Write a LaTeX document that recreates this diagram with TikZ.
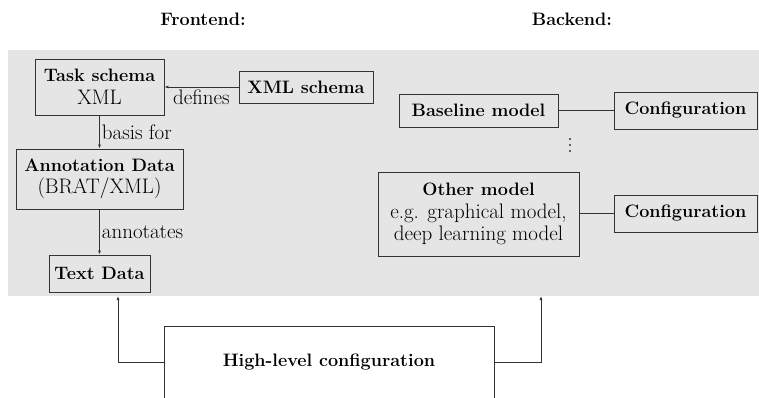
\documentclass[tikz,border=0pt]{standalone}
\usetikzlibrary{arrows.meta}
\begin{document}
\begin{tikzpicture}[x=1pt,y=-1pt,
  font=\fontsize{21}{22.5}\selectfont,
  box/.style={draw=black!80, line width=0.8pt, inner sep=0pt, align=center},
  conn/.style={draw=black!80, line width=0.8pt},
  arr/.style={conn, -{Latex[length=4pt,width=3pt]}},
  bf/.style={font=\fontsize{18}{21}\selectfont\bfseries},
  lbl/.style={inner sep=2pt}]
\newcommand{\bt}[1]{{\fontsize{18}{21}\selectfont\bfseries #1}}
\useasboundingbox (0,0) rectangle (759,398);
\clip (0,0) rectangle (759,397.5);
\fill[black!10] (8,50) rectangle (759,296);
\node[bf] (fe) at (203,19) {Frontend:};
\node[bf] (be) at (572,19) {Backend:};
% frontend
\node[box, minimum width=129pt, minimum height=56pt] (task) at (99.5,87) {\bt{Task schema}\\XML};
\node[box, bf, minimum width=134pt, minimum height=32pt] (xmls) at (306,87) {XML schema};
\node[box, minimum width=167pt, minimum height=60pt] (ann) at (99.5,179) {\bt{Annotation Data}\\(BRAT/XML)};
\node[box, bf, minimum width=101pt, minimum height=37pt] (txt) at (99.5,273.5) {Text Data};
\draw[arr] (xmls.west) -- node[lbl, below] {defines} (task.east |- xmls.west);
\draw[arr] (task.south) -- node[lbl, right] {basis for} (ann.north);
\draw[arr] (ann.south) -- node[lbl, right] {annotates} (txt.north);
% backend
\node[box, bf, minimum width=159pt, minimum height=33pt] (base) at (478.5,110.5) {Baseline model};
\node[box, bf, minimum width=143pt, minimum height=37pt] (conf1) at (685.5,110.5) {Configuration};
\node[box, minimum width=201pt, minimum height=84pt] (other) at (478.5,214) {\bt{Other model}\\e.g. graphical model,\\deep learning model};
\node[box, bf, minimum width=143pt, minimum height=37pt] (conf2) at (685.5,213.5) {Configuration};
\foreach \yy in {139,145,151} \fill[black!80] (570,\yy) circle (1.1pt);
\draw[conn] (base.east) -- (conf1.west);
\draw[conn] (other.east |- conf2.west) -- (conf2.west);
% high-level
\node[box, bf, fill=white, minimum width=330pt, minimum height=72pt] (high) at (329,362) {High-level configuration};
\coordinate (fin) at (118,296);
\coordinate (bin) at (541,296);
\draw[arr] (high.west) -| (fin);
\draw[arr] (high.east) -| (bin);
\end{tikzpicture}
\end{document}
